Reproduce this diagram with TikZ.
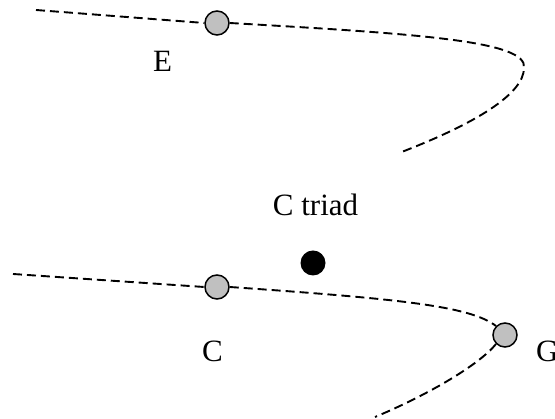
\documentclass[tikz,border=0pt]{standalone}
\usepackage{fontspec}
\setmainfont{Liberation Serif}
\usepackage{tikz}
\usetikzlibrary{positioning}
\definecolor{notegray}{RGB}{192,192,192}

\begin{document}
\begin{tikzpicture}[
    x=1pt, y=1pt,
    note/.style={circle, draw, line width=1.5pt, fill=notegray, minimum size=24pt, inner sep=0pt},
    root/.style={circle, fill=black, minimum size=25pt, inner sep=0pt},
    lbl/.style={anchor=base, font=\fontsize{31}{36}\selectfont, inner sep=0pt},
    path/.style={line width=1.9pt, dash pattern=on 9pt off 5pt}
]
\useasboundingbox (0,0) rectangle (555,419);

\node[note] (E) at (217,396) {};
\node[note] (C) at (217,132) {};
\node[note] (G) at (505,84) {};
\node[root] (triad) at (313,156) {};

\node[lbl] (Elbl) at (162.5,347) {E};
\node[lbl] (Clbl) at (212.5,57) {C};
\node[lbl, anchor=base west] (Glbl) at (536,57) {G};
\node[lbl] (triadlbl) at (315.5,203) {C triad};

\coordinate (topstart) at (36,409);
\coordinate (topturn) at (524,351);
\coordinate (topend) at (399,266);
\coordinate (lowstart) at (13,145);
\coordinate (lowend) at (375,2);

% upper line through E
\draw[path] (topstart) -- (E.west);
\draw[path] (E.east) .. controls (420,385) and (528,378) .. (topturn)
    .. controls (524,325) and (475,295) .. (topend);

% lower line through C and G
\draw[path] (lowstart) -- (C.west);
\draw[path] (C.east) .. controls (400,120) and (470,113) .. (G.north west);
\draw[path] (G.south west) .. controls (480,55) and (430,25) .. (lowend);

\end{tikzpicture}
\end{document}
